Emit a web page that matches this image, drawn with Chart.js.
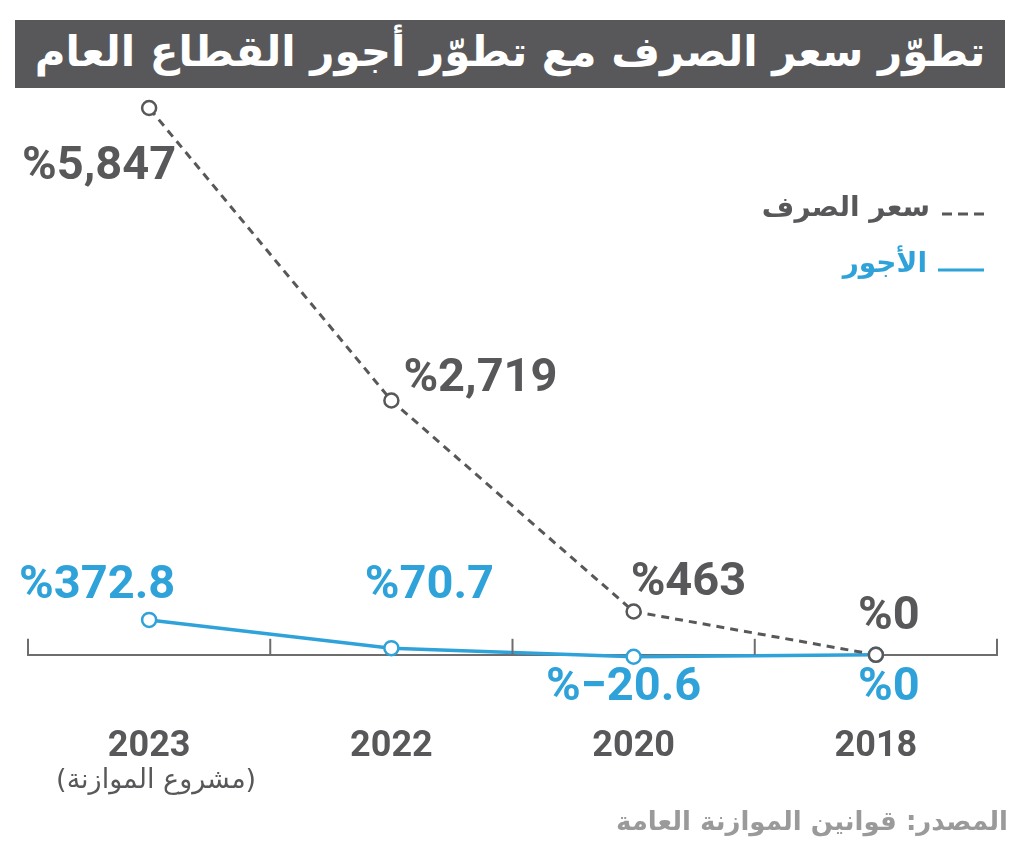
<!DOCTYPE html>
<html lang="ar">
<head>
<meta charset="utf-8">
<title>تطوّر سعر الصرف مع تطوّر أجور القطاع العام</title>
<script src="https://cdn.jsdelivr.net/npm/chart.js@4.4.1/dist/chart.umd.min.js"></script>
<style>
  html, body { margin: 0; padding: 0; background: #fff; }
  #wrap { position: relative; width: 1024px; height: 853px; }
  #chart { position: absolute; left: 0; top: 0; }
  #title {
    position: absolute; left: 15px; top: 20px; width: 990px; height: 68px;
    background: #58585a; color: #fff; direction: rtl; text-align: center;
    font: bold 42px "DejaVu Sans", sans-serif; line-height: 64px; white-space: nowrap;
  }
  #source {
    position: absolute; right: 16px; top: 806px; direction: rtl;
    font: bold 26px "DejaVu Sans", sans-serif; color: #9a9a9a; white-space: nowrap;
  }
</style>
</head>
<body>
<div id="wrap">
  <canvas id="chart" width="1024" height="853"></canvas>
  <div id="title">تطوّر سعر الصرف مع تطوّر أجور القطاع العام</div>
  <div id="source">المصدر: قوانين الموازنة العامة</div>
</div>
<script>
// data, oldest year first (axis is reversed: 2018 on the right)
const years = ['2018', '2020', '2022', '2023'];
const exchangeRate = [0, 463, 2719, 5847];
const wages = [0, -20.6, 70.7, 372.8];
const seriesNames = ['سعر الصرف', 'الأجور'];
const yearNote = '(مشروع الموازنة)';

const grey = '#58585a';
const blue = '#2fa3d9';

// label offsets from each point: [dx, dy, align]
const exchangeLabelPos = [[13, -38, 'center'], [-3, -28, 'left'], [12, -21, 'left'], [27, 59, 'right']];
const wageLabelPos = [[13, 33, 'center'], [-10, 32, 'center'], [38, -62, 'center'], [-52, -34, 'center']];

function fmt(v) {
  const s = Math.abs(v).toLocaleString('en-US');
  return '%' + (v < 0 ? '\u2212' : '') + s;
}

const overlay = {
  id: 'overlay',
  afterDraw(chart) {
    const c = chart.ctx;
    const x = chart.scales.x;
    const y = chart.scales.y;
    const y0 = y.getPixelForValue(0);
    c.save();

    // upward tick marks between categories
    const centers = years.map((_, i) => x.getPixelForValue(i));
    const step = Math.abs(centers[1] - centers[0]);
    c.strokeStyle = '#6d6d6d';
    c.lineWidth = 2;
    for (let k = 0; k <= years.length; k++) {
      const bx = chart.chartArea.left + k * step;
      c.beginPath();
      c.moveTo(bx, y0);
      c.lineTo(bx, y0 - 16);
      c.stroke();
    }

    // value labels
    c.textBaseline = 'middle';
    const sets = [
      { data: exchangeRate, pos: exchangeLabelPos, color: grey, meta: chart.getDatasetMeta(0) },
      { data: wages, pos: wageLabelPos, color: blue, meta: chart.getDatasetMeta(1) }
    ];
    sets.forEach(s => {
      c.fillStyle = s.color;
      s.meta.data.forEach((pt, i) => {
        const p = s.pos[i];
        c.font = 'bold 47px Roboto, sans-serif';
        c.textAlign = p[2];
        c.fillText(fmt(s.data[i]), pt.x + p[0], pt.y + p[1]);
      });
    });

    // note under 2023
    c.direction = 'rtl';
    c.textAlign = 'center';
    c.fillStyle = grey;
    c.font = '27px "DejaVu Sans", sans-serif';
    c.fillText(yearNote, x.getPixelForValue(3) + 7, 781);

    // legend
    c.textAlign = 'right';
    c.font = 'bold 28px "DejaVu Sans", sans-serif';
    c.fillStyle = grey;
    c.fillText(seriesNames[0], 930, 209);
    c.fillStyle = blue;
    c.fillText(seriesNames[1], 927, 265);
    c.lineWidth = 3;
    c.strokeStyle = grey;
    c.setLineDash([10, 6]);
    c.beginPath();
    c.moveTo(942, 214);
    c.lineTo(985, 214);
    c.stroke();
    c.setLineDash([]);
    c.strokeStyle = blue;
    c.beginPath();
    c.moveTo(938, 270);
    c.lineTo(984, 270);
    c.stroke();
    c.restore();
  }
};

new Chart(document.getElementById('chart'), {
  type: 'line',
  data: {
    labels: years,
    datasets: [
      {
        label: seriesNames[0],
        data: exchangeRate,
        borderColor: grey,
        borderWidth: 3,
        borderDash: [8, 6],
        pointRadius: 7,
        pointBorderWidth: 2.5,
        pointBackgroundColor: '#fff',
        pointBorderColor: grey,
        clip: false
      },
      {
        label: seriesNames[1],
        data: wages,
        borderColor: blue,
        borderWidth: 3.5,
        pointRadius: 7,
        pointBorderWidth: 2.5,
        pointBackgroundColor: '#fff',
        pointBorderColor: blue,
        clip: false
      }
    ]
  },
  options: {
    responsive: false,
    animation: false,
    layout: { padding: { left: 28, right: 27, top: 108, bottom: 13 } },
    plugins: { legend: { display: false }, tooltip: { enabled: false } },
    scales: {
      x: {
        reverse: true,
        offset: true,
        grid: { display: false, drawTicks: false },
        border: { display: true, color: '#6d6d6d', width: 2 },
        ticks: { color: grey, padding: 71, font: { family: 'Roboto', weight: 'bold', size: 36 } }
      },
      y: { display: false, min: 0, max: 5847 }
    }
  },
  plugins: [overlay]
});
</script>
</body>
</html>
